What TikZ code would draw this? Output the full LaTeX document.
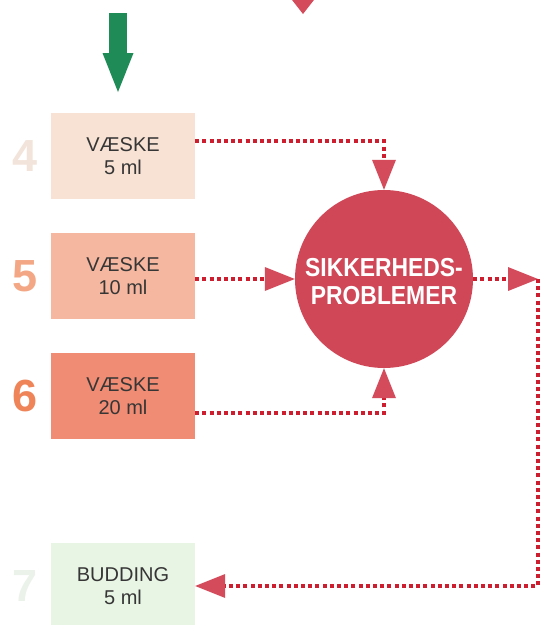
\documentclass[tikz,border=0pt]{standalone}
\usepackage{fontspec}
\usepackage{graphicx}
\setmainfont{Liberation Sans}
\usetikzlibrary{arrows.meta}

\definecolor{boxA}{HTML}{F8E2D4}
\definecolor{boxB}{HTML}{F6B7A0}
\definecolor{boxC}{HTML}{F08C74}
\definecolor{boxD}{HTML}{E8F5E4}
\definecolor{numA}{HTML}{F2E4DA}
\definecolor{numB}{HTML}{F3A785}
\definecolor{numC}{HTML}{EE8458}
\definecolor{numD}{HTML}{EAF2EA}
\definecolor{circred}{HTML}{D04858}
\definecolor{headred}{HTML}{D44C5C}
\definecolor{dotred}{HTML}{CC1E2E}
\definecolor{arrowgreen}{HTML}{1F8C57}
\definecolor{boxtext}{HTML}{363636}

\tikzset{
  dosebox/.style={rectangle, minimum width=144pt, minimum height=86pt,
    inner sep=0pt, align=center, text=boxtext,
    font=\fontsize{20}{23.5}\selectfont},
  stepnum/.style={inner sep=0pt, font=\fontsize{45}{45}\selectfont\bfseries},
  dotline/.style={draw=dotred, line width=4.5pt, dash pattern=on 4pt off 3.2pt},
  redtip/.tip={Triangle[length=30pt,width=24pt,line width=0pt,fill=headred,color=headred]},
}

\begin{document}
\begin{tikzpicture}[x=1pt,y=-1pt]
  \useasboundingbox (0,0) rectangle (541,625);
  \fill[white] (0,0) rectangle (541,625);

  % incoming arrows at the top
  \fill[headred] (290.5,-2) -- (315.5,-2) -- (303,14) -- cycle;
  \coordinate (gtop) at (118,13);
  \coordinate (gtip) at (118,92);
  \draw[arrowgreen, line width=18pt, -{Triangle[length=39pt,width=31pt,line width=0pt]}] (gtop) -- (gtip);

  % step numbers
  \node[stepnum, text=numA] (n4) at (25,156) {4};
  \node[stepnum, text=numB] (n5) at (25,276) {5};
  \node[stepnum, text=numC] (n6) at (25,396) {6};
  \node[stepnum, text=numD] (n7) at (25,586) {7};

  % dose boxes
  \node[dosebox, fill=boxA] (b4) at (123,156) {VÆSKE\\5 ml};
  \node[dosebox, fill=boxB] (b5) at (123,276) {VÆSKE\\10 ml};
  \node[dosebox, fill=boxC] (b6) at (123,396) {VÆSKE\\20 ml};
  \node[dosebox, fill=boxD] (b7) at (123,586) {BUDDING\\5 ml};

  % central problem circle
  \node[circle, fill=circred, minimum size=178pt, inner sep=0pt] (circ) at (384,279) {};
  \node[text=white, align=center, inner sep=0pt,
        font=\fontsize{26}{28}\selectfont\bfseries] (circtext) at (384,281.5)
        {\scalebox{0.88}[1]{SIKKERHEDS-}\\\scalebox{0.88}[1]{PROBLEMER}};

  % connectors
  \coordinate (cR) at (538,279);
  \draw[dotline, -{redtip}] ([yshift=15pt]b4.east) -| (circ.north);
  \draw[dotline, -{redtip}] (b5.east |- circ.west) -- (circ.west);
  \draw[dotline, -{redtip}] ([yshift=-17pt]b6.east) -| (circ.south);
  \draw[dotline, -{redtip}] (circ.east) -- (cR);
  \draw[dotline, -{redtip}] (cR) |- (b7.east);
\end{tikzpicture}
\end{document}
